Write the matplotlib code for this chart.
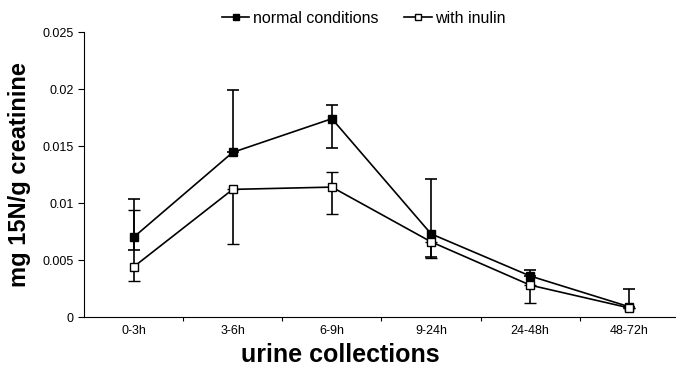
import matplotlib
matplotlib.use("Agg")
import matplotlib.pyplot as plt
import numpy as np

plt.rcParams['font.family'] = ['Liberation Sans', 'DejaVu Sans']

categories = ["0-3h", "3-6h", "6-9h", "9-24h", "24-48h", "48-72h"]
normal = [0.0070, 0.01445, 0.0174, 0.0073, 0.0036, 0.0009]
normal_lo = [0.0059, 0.01445, 0.0148, 0.0053, 0.0036, 0.0009]
normal_hi = [0.0104, 0.0199, 0.0186, 0.0121, 0.0041, 0.0025]
inulin = [0.0044, 0.0112, 0.0114, 0.0066, 0.0028, 0.0008]
inulin_lo = [0.0032, 0.0064, 0.0090, 0.0052, 0.0012, 0.0008]
inulin_hi = [0.0094, 0.0112, 0.0127, 0.0066, 0.0028, 0.0008]

fig = plt.figure(figsize=(6.76, 3.73), dpi=100)
ax = fig.add_axes([0.1243, 0.150, 0.88, 0.764])
x = np.arange(len(categories))

def err(v, lo, hi):
    return [np.array(v) - np.array(lo), np.array(hi) - np.array(v)]

ax.errorbar(x, normal, yerr=err(normal, normal_lo, normal_hi), color='black', lw=1.2,
            marker='s', ms=5.5, mfc='black', mec='black', capsize=4.5, elinewidth=1.2,
            capthick=1.2, label='normal conditions', zorder=3)
ax.errorbar(x, inulin, yerr=err(inulin, inulin_lo, inulin_hi), color='black', lw=1.2,
            marker='s', ms=5.5, mfc='white', mec='black', mew=1.0, capsize=4.5, elinewidth=1.2,
            capthick=1.2, label='with inulin', zorder=3)

ax.set_xlim(-0.5, 5.5)
ax.set_ylim(0, 0.025)
ax.set_yticks([0, 0.005, 0.01, 0.015, 0.02, 0.025])
ax.set_yticklabels(["0", "0.005", "0.01", "0.015", "0.02", "0.025"])
ax.set_xticks(np.arange(0.5, 5.5, 1.0))
ax.set_xticklabels([])
ax.set_xticks(x, minor=True)
ax.set_xticklabels(categories, minor=True)
ax.tick_params(axis='x', which='minor', length=0, pad=6, labelsize=9)
ax.tick_params(axis='x', which='major', length=3, direction='out')
ax.tick_params(axis='y', length=4, direction='out', labelsize=9)
ax.spines['top'].set_visible(False)
ax.spines['right'].set_visible(False)

ax.set_ylabel("mg 15N/g creatinine", fontsize=17, fontweight='bold')
ax.yaxis.set_label_coords(-0.089, 0.5)
ax.set_xlabel("urine collections", fontsize=18, fontweight='bold')
ax.xaxis.set_label_coords(0.43, -0.09)

handles, labels = ax.get_legend_handles_labels()
handles = [h[0] for h in handles]
fig.legend(handles, labels, loc='upper center', bbox_to_anchor=(0.538, 1.01), ncol=2,
           frameon=False, fontsize=11.5, handlelength=1.7, handletextpad=0.2,
           columnspacing=1.65, markerscale=0.9)

fig.savefig("out.png", dpi=100)
